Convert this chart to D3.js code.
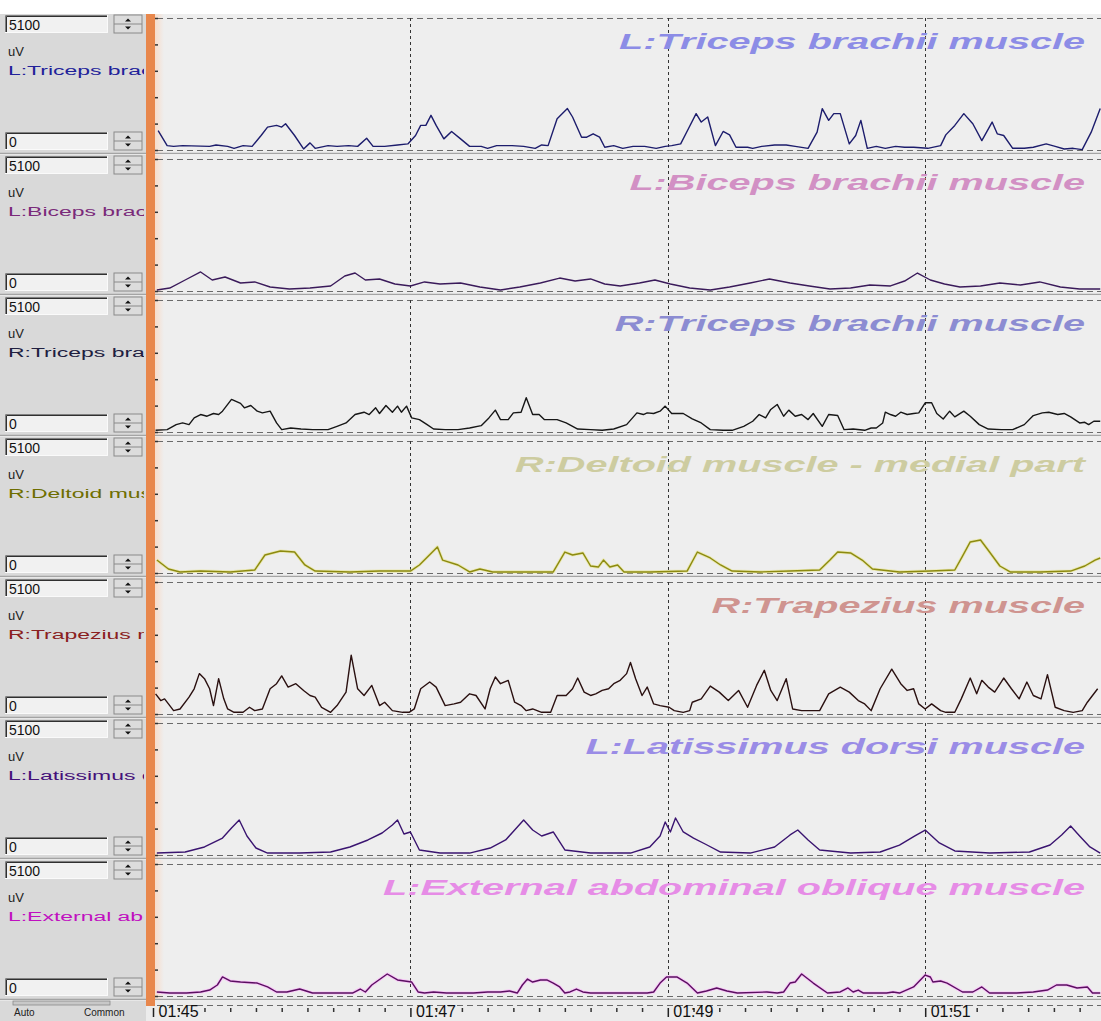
<!DOCTYPE html>
<html>
<head>
<meta charset="utf-8">
<script src="https://cdn.jsdelivr.net/npm/d3@7"></script>
<style>
body { margin: 0; background: #fff; }
svg { display: block; font-family: Arial, "Liberation Sans", sans-serif; }
</style>
</head>
<body>
<div id="chart"></div>
<script>
// channel names, input box values and axis ticks
const muscles = [
    "L:Triceps brachii muscle",
    "L:Biceps brachii muscle",
    "R:Triceps brachii muscle",
    "R:Deltoid muscle - medial part",
    "R:Trapezius muscle",
    "L:Latissimus dorsi muscle",
    "L:External abdominal oblique muscle"
];
const rangeMax = 5100;
const rangeMin = 0;
const unit = "uV";
const yTicks = [0, 1020, 2040, 3060, 4080, 5100];
const majorTicks = [105, 107, 109, 111];
const majorLabels = ["01:45", "01:47", "01:49", "01:51"];

// envelopes: [time in s, amplitude in uV]
const lTriceps = [
    [105.04,750],[105.11,170],[105.16,140],[105.23,170],[105.44,140],[105.49,195],[105.58,140],[105.63,65],
    [105.70,170],[105.77,140],[105.84,560],[105.89,885],[105.96,950],[106.00,885],[106.03,1015],[106.10,560],
    [106.17,40],[106.22,275],[106.26,65],[106.36,170],[106.43,140],[106.52,170],[106.59,140],[106.66,455],
    [106.71,140],[106.80,140],[106.90,195],[106.98,235],[107.04,560],[107.08,950],[107.12,950],[107.16,1340],
    [107.20,950],[107.26,430],[107.32,715],[107.39,430],[107.46,140],[107.55,140],[107.60,65],[107.67,170],
    [107.79,170],[107.88,140],[107.97,65],[108.02,195],[108.07,170],[108.14,1210],[108.22,1600],[108.26,1275],
    [108.33,495],[108.37,495],[108.42,625],[108.47,495],[108.51,105],[108.58,170],[108.65,65],[108.73,140],
    [108.82,140],[108.91,65],[108.98,140],[109.03,170],[109.10,235],[109.16,820],[109.22,1405],[109.26,1080],
    [109.31,1275],[109.37,170],[109.43,715],[109.48,585],[109.53,105],[109.62,105],[109.66,65],[109.73,140],
    [109.83,195],[109.92,195],[109.99,140],[110.09,65],[110.16,690],[110.20,1600],[110.25,1145],[110.29,1405],
    [110.34,1405],[110.41,235],[110.46,560],[110.50,1145],[110.55,65],[110.62,140],[110.69,65],[110.77,140],
    [110.84,105],[110.91,105],[111.02,65],[111.12,170],[111.16,585],[111.23,950],[111.30,1405],[111.37,1015],
    [111.44,365],[111.52,1080],[111.56,625],[111.61,560],[111.68,65],[111.77,65],[111.84,105],[111.94,235],
    [112.01,140],[112.08,40],[112.15,65],[112.22,15],[112.29,690],[112.36,1600]
];
const lBiceps = [
    [105.03,40],[105.13,115],[105.25,425],[105.37,735],[105.46,425],[105.56,540],[105.68,310],[105.79,350],
    [105.91,155],[106.06,75],[106.22,115],[106.38,195],[106.49,580],[106.57,695],[106.65,425],[106.76,465],
    [106.88,270],[107.00,195],[107.11,350],[107.23,270],[107.39,310],[107.54,155],[107.70,40],[107.85,155],
    [108.01,310],[108.16,500],[108.28,385],[108.40,465],[108.51,270],[108.63,195],[108.78,310],[108.90,425],
    [109.02,270],[109.17,115],[109.33,40],[109.48,155],[109.64,310],[109.79,465],[109.95,310],[110.10,195],
    [110.26,75],[110.42,115],[110.57,230],[110.73,195],[110.84,385],[110.94,695],[111.04,425],[111.15,270],
    [111.27,155],[111.43,195],[111.58,310],[111.74,230],[111.89,350],[112.05,155],[112.20,75],[112.36,75]
];
const rTriceps = [
    [105.02,65],[105.11,90],[105.18,285],[105.23,350],[105.28,285],[105.32,545],[105.37,675],[105.42,610],
    [105.47,715],[105.51,675],[105.54,805],[105.61,1260],[105.68,1105],[105.71,935],[105.76,1025],[105.81,805],
    [105.85,740],[105.91,805],[105.96,350],[106.00,90],[106.07,155],[106.15,115],[106.24,90],[106.36,90],
    [106.43,220],[106.50,350],[106.57,675],[106.64,765],[106.68,675],[106.73,935],[106.76,715],[106.81,1025],
    [106.86,765],[106.90,1000],[106.93,765],[106.97,1000],[107.01,545],[107.07,480],[107.13,285],[107.18,115],
    [107.27,90],[107.37,90],[107.46,155],[107.55,245],[107.61,545],[107.66,845],[107.70,480],[107.76,480],
    [107.80,740],[107.86,765],[107.90,1325],[107.95,675],[108.00,675],[108.04,480],[108.14,480],[108.21,350],
    [108.30,115],[108.40,90],[108.49,65],[108.58,115],[108.68,285],[108.76,740],[108.81,675],[108.84,740],
    [108.89,715],[108.94,805],[108.98,1000],[109.03,715],[109.12,715],[109.19,505],[109.26,350],[109.33,90],
    [109.43,65],[109.50,65],[109.59,220],[109.66,415],[109.71,675],[109.76,545],[109.80,870],[109.85,1065],
    [109.90,610],[109.94,845],[109.99,610],[110.04,675],[110.09,480],[110.13,715],[110.20,220],[110.25,675],
    [110.32,635],[110.37,90],[110.44,115],[110.53,65],[110.58,155],[110.62,155],[110.67,350],[110.69,765],
    [110.73,675],[110.77,610],[110.81,765],[110.86,675],[110.91,715],[110.95,740],[111.00,1130],[111.05,1130],
    [111.09,715],[111.14,505],[111.19,805],[111.23,585],[111.30,805],[111.35,610],[111.42,285],[111.49,115],
    [111.59,90],[111.68,90],[111.77,285],[111.84,635],[111.91,740],[111.96,765],[112.03,675],[112.08,715],
    [112.13,585],[112.20,350],[112.24,375],[112.27,285],[112.31,415],[112.36,415]
];
const rDeltoid = [
    [105.03,500],[105.12,155],[105.21,40],[105.37,75],[105.60,40],[105.79,115],[105.87,695],[105.99,850],
    [106.10,810],[106.18,310],[106.26,75],[106.53,40],[106.76,75],[107.00,75],[107.07,310],[107.21,1005],
    [107.25,500],[107.37,310],[107.46,40],[107.54,155],[107.64,40],[107.85,40],[108.11,40],[108.20,810],
    [108.26,695],[108.34,775],[108.40,270],[108.46,230],[108.50,500],[108.55,230],[108.61,310],[108.66,40],
    [108.86,40],[109.15,75],[109.23,810],[109.33,580],[109.41,310],[109.50,75],[109.72,40],[109.95,75],
    [110.18,115],[110.26,500],[110.32,810],[110.42,775],[110.51,500],[110.59,155],[110.80,40],[111.04,75],
    [111.23,115],[111.29,655],[111.35,1200],[111.43,1275],[111.50,810],[111.58,270],[111.66,40],[111.89,40],
    [112.13,75],[112.24,270],[112.32,500],[112.36,580]
];
const rTrapezius = [
    [105.02,780],[105.06,520],[105.09,585],[105.12,390],[105.16,130],[105.21,195],[105.28,650],[105.32,975],
    [105.36,1560],[105.40,1365],[105.44,975],[105.47,325],[105.51,1365],[105.55,585],[105.58,195],[105.63,65],
    [105.70,65],[105.75,260],[105.79,130],[105.85,195],[105.91,975],[105.96,1170],[106.00,1470],[106.05,1040],
    [106.11,1170],[106.17,910],[106.22,715],[106.26,650],[106.31,260],[106.38,65],[106.43,325],[106.50,845],
    [106.54,2275],[106.59,975],[106.64,715],[106.70,1105],[106.76,325],[106.80,455],[106.86,130],[106.94,65],
    [106.99,65],[107.03,195],[107.08,975],[107.15,1235],[107.20,1040],[107.27,325],[107.34,390],[107.39,455],
    [107.46,780],[107.51,715],[107.58,195],[107.62,975],[107.66,1430],[107.70,1170],[107.76,1300],[107.81,455],
    [107.86,325],[107.90,130],[107.95,195],[108.02,65],[108.09,65],[108.14,715],[108.21,715],[108.26,975],
    [108.30,1390],[108.35,845],[108.40,715],[108.44,780],[108.49,910],[108.54,975],[108.58,1170],[108.63,1300],
    [108.68,1560],[108.71,1990],[108.75,1365],[108.80,715],[108.84,1040],[108.89,390],[108.94,325],[109.01,260],
    [109.05,130],[109.12,65],[109.17,130],[109.19,455],[109.26,585],[109.33,1080],[109.40,845],[109.47,520],
    [109.55,910],[109.62,260],[109.69,1105],[109.75,1690],[109.80,910],[109.85,520],[109.92,1365],[109.97,195],
    [110.04,130],[110.11,130],[110.18,130],[110.25,780],[110.34,1040],[110.41,845],[110.48,520],[110.53,390],
    [110.58,130],[110.65,975],[110.74,1730],[110.81,1170],[110.86,910],[110.91,975],[110.95,390],[111.00,195],
    [111.05,390],[111.12,130],[111.16,65],[111.23,65],[111.28,585],[111.35,1390],[111.40,780],[111.44,1300],
    [111.49,1040],[111.54,845],[111.61,1390],[111.67,975],[111.73,585],[111.79,1235],[111.84,715],[111.90,585],
    [111.95,1520],[112.01,260],[112.08,130],[112.15,65],[112.22,130],[112.26,455],[112.34,975]
];
const lLatissimus = [
    [105.03,75],[105.25,115],[105.40,310],[105.54,655],[105.61,1045],[105.67,1350],[105.73,735],[105.80,270],
    [105.89,75],[106.14,75],[106.38,115],[106.53,310],[106.67,580],[106.78,850],[106.86,1160],[106.90,1350],
    [106.95,810],[107.00,890],[107.07,195],[107.23,75],[107.46,75],[107.62,270],[107.74,580],[107.81,965],
    [107.88,1350],[107.95,965],[108.02,735],[108.11,890],[108.20,195],[108.40,75],[108.71,75],[108.86,310],
    [108.94,735],[108.98,1275],[109.02,890],[109.06,1430],[109.12,890],[109.20,655],[109.29,425],[109.41,115],
    [109.64,75],[109.83,310],[109.95,775],[110.01,965],[110.09,580],[110.18,195],[110.42,75],[110.65,115],
    [110.80,385],[110.92,735],[111.00,965],[111.11,465],[111.23,155],[111.50,75],[111.81,115],[111.97,385],
    [112.06,775],[112.13,1120],[112.20,735],[112.28,310],[112.36,75]
];
const lObliqueExt = [
    [105.03,155],[105.13,115],[105.26,115],[105.37,155],[105.44,230],[105.50,425],[105.54,735],[105.60,580],
    [105.68,540],[105.81,500],[105.89,350],[105.96,155],[106.04,155],[106.14,270],[106.24,115],[106.55,115],
    [106.61,270],[106.65,155],[106.70,425],[106.82,850],[106.90,620],[107.01,540],[107.06,155],[107.11,115],
    [107.18,155],[107.28,115],[107.49,115],[107.60,155],[107.70,155],[107.77,195],[107.83,115],[107.87,425],
    [107.91,655],[107.95,540],[108.01,620],[108.06,620],[108.11,500],[108.16,350],[108.20,115],[108.24,155],
    [108.29,270],[108.34,155],[108.40,115],[108.61,115],[108.73,115],[108.84,115],[108.89,155],[108.94,500],
    [108.99,735],[109.07,735],[109.15,500],[109.23,115],[109.30,195],[109.38,310],[109.46,195],[109.54,115],
    [109.77,155],[109.85,115],[109.90,155],[109.95,500],[109.99,540],[110.04,850],[110.13,500],[110.24,115],
    [110.34,155],[110.40,310],[110.44,155],[110.48,230],[110.52,115],[110.70,115],[110.75,155],[110.80,115],
    [110.91,350],[111.00,810],[111.04,735],[111.06,540],[111.12,580],[111.17,500],[111.29,155],[111.37,155],
    [111.44,350],[111.50,115],[111.71,115],[111.84,155],[111.95,230],[112.02,425],[112.10,425],[112.18,310],
    [112.26,350],[112.30,115],[112.36,115]
];
const channels = [lTriceps, lBiceps, rTriceps, rDeltoid, rTrapezius, lLatissimus, lObliqueExt];

// styling per channel
const traceColors = ["#1c1c6c", "#3a1a5a", "#161616", "#8c8a10", "#2a1010", "#3a1470", "#5a1060"];
const haloColors  = [null, null, null, "#e8e488", null, null, "#ffa8ff"];
const titleColors = ["#8c8ce6", "#d290c4", "#8c8cd2", "#cdcca0", "#cf9490", "#9a8ce6", "#e68ce6"];
const labelColors = ["#22229a", "#7a2a7a", "#202040", "#6e6e00", "#8a2020", "#44107a", "#c010c0"];

const width = 1101, height = 1021;
const top0 = 14, step = 141;
const plotLeft = 155;

const x = d3.scaleLinear().domain([105, 112]).range([153, 153 + 7 * 128.7]);

const svg = d3.select("#chart")
              .append("svg")
              .attr("width", width)
              .attr("height", height);

svg.append("rect").attr("width", width).attr("height", height).attr("fill", "#fff");

const defs = svg.append("defs");
const grad = defs.append("linearGradient").attr("id", "glow");
grad.append("stop").attr("offset", "0%").attr("stop-color", "#f7dccb");
grad.append("stop").attr("offset", "100%").attr("stop-color", "#eeeeee");
defs.append("clipPath").attr("id", "leftclip")
    .append("rect").attr("x", 0).attr("y", 0).attr("width", 144).attr("height", height);

function inputBox(g, y0, value) {
    g.append("rect").attr("x", 5).attr("y", y0).attr("width", 103).attr("height", 18).attr("fill", "#f1f1f1");
    g.append("path").attr("d", "M5.5," + (y0 + 18) + "V" + (y0 + 0.5) + "H108")
     .attr("fill", "none").attr("stroke", "#808080");
    g.append("path").attr("d", "M6.5," + (y0 + 17) + "V" + (y0 + 1.5) + "H107")
     .attr("fill", "none").attr("stroke", "#303030");
    g.append("path").attr("d", "M5," + (y0 + 17.5) + "H107.5V" + y0)
     .attr("fill", "none").attr("stroke", "#fafafa");
    g.append("text").attr("x", 9).attr("y", y0 + 15)
     .attr("font-size", 14).attr("fill", "#111").text(value);
}

function spinButton(g, y0) {
    g.append("rect").attr("x", 114).attr("y", y0).attr("width", 28).attr("height", 18)
     .attr("fill", "#dcdcdc").attr("stroke", "#8a8a8a");
    g.append("line").attr("x1", 114).attr("x2", 142).attr("y1", y0 + 9).attr("y2", y0 + 9)
     .attr("stroke", "#8a8a8a");
    g.append("path").attr("d", "M125," + (y0 + 6.5) + "l3,-3l3,3z").attr("fill", "#111");
    g.append("path").attr("d", "M125," + (y0 + 11.5) + "l3,3l3,-3z").attr("fill", "#111");
}

const line = d3.line()
               .x(function(d) { return x(d[0]); });

channels.forEach(function(data, k) {
    const top = top0 + k * step;
    const y = d3.scaleLinear().domain([rangeMin, rangeMax]).range([150 + k * step, 18 + k * step]);
    const g = svg.append("g").attr("class", "panel");

    g.append("rect").attr("x", 0).attr("y", top).attr("width", 146).attr("height", step)
     .attr("fill", "#d9d9d9");
    g.append("rect").attr("x", plotLeft).attr("y", top).attr("width", width - plotLeft).attr("height", step)
     .attr("fill", "#eeeeee");
    g.append("rect").attr("x", plotLeft).attr("y", top).attr("width", 9).attr("height", step)
     .attr("fill", "url(#glow)");

    // top and bottom reference lines
    g.selectAll(".hline")
     .data([rangeMax, rangeMin])
     .enter()
     .append("line")
     .attr("x1", 157).attr("x2", width)
     .attr("y1", function(d) { return Math.round(y(d)) + 0.5; })
     .attr("y2", function(d) { return Math.round(y(d)) + 0.5; })
     .attr("stroke", "#6a6a6a")
     .attr("stroke-dasharray", "6,4");

    // vertical time grid
    g.selectAll(".vline")
     .data(majorTicks.slice(1))
     .enter()
     .append("line")
     .attr("x1", function(d) { return Math.round(x(d)) + 0.5; })
     .attr("x2", function(d) { return Math.round(x(d)) + 0.5; })
     .attr("y1", y(rangeMax))
     .attr("y2", y(rangeMin))
     .attr("stroke", "#333")
     .attr("stroke-dasharray", "3,3");

    // big channel title
    const title = g.append("text")
                   .attr("y", top + 35)
                   .attr("font-size", 22)
                   .attr("font-weight", "bold")
                   .attr("font-style", "italic")
                   .attr("fill", titleColors[k])
                   .text(muscles[k]);
    const len = title.node().getComputedTextLength() * 1.8;
    title.attr("x", 1085 - len)
         .attr("textLength", len)
         .attr("lengthAdjust", "spacingAndGlyphs");

    // trace
    g.append("clipPath").attr("id", "clip" + k)
     .append("rect").attr("x", plotLeft).attr("y", top).attr("width", width - plotLeft).attr("height", step);
    line.y(function(d) { return y(d[1]); });
    if (haloColors[k]) {
        g.append("path")
         .attr("d", line(data))
         .attr("clip-path", "url(#clip" + k + ")")
         .attr("fill", "none")
         .attr("stroke", haloColors[k])
         .attr("stroke-width", 3.2)
         .attr("stroke-opacity", 0.6)
         .attr("stroke-linejoin", "round");
    }
    g.append("path")
     .attr("d", line(data))
     .attr("clip-path", "url(#clip" + k + ")")
     .attr("fill", "none")
     .attr("stroke", traceColors[k])
     .attr("stroke-width", 1.4)
     .attr("stroke-linejoin", "round");

    // y ticks on the orange bar edge
    g.append("g")
     .attr("transform", "translate(158,0)")
     .call(d3.axisLeft(y).tickValues(yTicks).tickSize(4).tickFormat(""))
     .call(function(a) { a.select(".domain").remove(); })
     .selectAll("line").attr("stroke", "#333").attr("stroke-width", 1.5);

    // left control panel
    inputBox(g, top + 1, rangeMax);
    spinButton(g, top + 1);
    inputBox(g, top + 118, rangeMin);
    spinButton(g, top + 118);
    g.append("text").attr("x", 8).attr("y", top + 42)
     .attr("font-size", 13).attr("fill", "#222").text(unit);
    g.append("g")
     .attr("clip-path", "url(#leftclip)")
     .append("text")
     .attr("transform", "translate(8," + (top + 61) + ") scale(1.7,1)")
     .attr("font-size", 13.5)
     .attr("fill", labelColors[k])
     .text(muscles[k]);

    // separator
    g.append("line").attr("x1", 0).attr("x2", width)
     .attr("y1", top + step - 1.5).attr("y2", top + step - 1.5)
     .attr("stroke", "#a4a4a4").attr("stroke-width", 1.5);
    g.append("line").attr("x1", 0).attr("x2", width)
     .attr("y1", top + step - 0.3).attr("y2", top + step - 0.3)
     .attr("stroke", "#f6f6f6").attr("stroke-width", 0.8);
});

// time axis strip
const axisTop = top0 + 7 * step;
svg.append("rect").attr("x", 0).attr("y", axisTop).attr("width", 146).attr("height", height - axisTop)
   .attr("fill", "#d9d9d9");
svg.append("rect").attr("x", 146).attr("y", axisTop).attr("width", width - 146).attr("height", height - axisTop)
   .attr("fill", "#ececec");
svg.append("rect").attr("x", 13).attr("y", axisTop).attr("width", 97).attr("height", 4)
   .attr("fill", "#c8c8c8").attr("stroke", "#8a8a8a").attr("stroke-width", 0.8);
svg.append("line").attr("x1", 157).attr("x2", width)
   .attr("y1", axisTop + 4.5).attr("y2", axisTop + 4.5)
   .attr("stroke", "#6a6a6a").attr("stroke-dasharray", "6,4");

const minorTicks = d3.range(0, 38).map(function(i) { return 105 + i * 0.2; })
                     .filter(function(t) { return Math.abs(t - Math.round(t)) > 0.01 || Math.round(t) % 2 === 0; });

svg.append("g")
   .attr("transform", "translate(0," + (axisTop + 7) + ")")
   .call(d3.axisBottom(x).tickValues(minorTicks).tickSize(4).tickFormat(""))
   .call(function(a) { a.select(".domain").remove(); })
   .selectAll("line").attr("stroke", "#333").attr("stroke-width", 1.5);

const timeAxis = svg.append("g")
   .attr("transform", "translate(0," + (axisTop + 7) + ")")
   .call(d3.axisBottom(x).tickValues(majorTicks).tickSize(9)
           .tickFormat(function(d, i) { return majorLabels[i]; }))
   .call(function(a) { a.select(".domain").remove(); });
timeAxis.selectAll("line").attr("stroke", "#222").attr("stroke-width", 1.5);
timeAxis.selectAll("text")
   .attr("x", 5).attr("y", -2)
   .attr("text-anchor", "start")
   .attr("font-size", 16)
   .attr("font-family", "Arial, 'Liberation Sans', sans-serif")
   .attr("fill", "#111");

svg.append("text").attr("x", 14).attr("y", 1016).attr("font-size", 10).attr("fill", "#222").text("Auto");
svg.append("text").attr("x", 84).attr("y", 1016).attr("font-size", 10).attr("fill", "#222").text("Common");

// orange channel bar
svg.append("rect").attr("x", 146).attr("y", top0).attr("width", 9).attr("height", axisTop + 5 - top0)
   .attr("fill", "#e8874c");
</script>
</body>
</html>
